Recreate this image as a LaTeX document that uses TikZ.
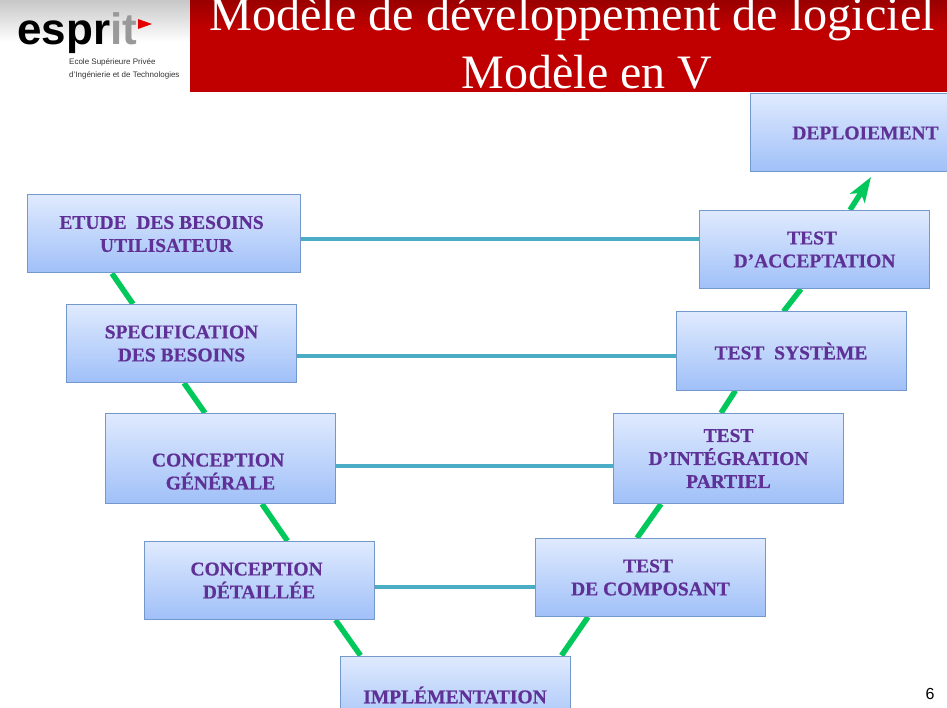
\documentclass[tikz,border=0pt]{standalone}
\usepackage{fontspec}
\setmainfont[BoldFeatures={FakeBold=0.6}]{Liberation Serif}
\setsansfont{Liberation Sans}
\usetikzlibrary{arrows.meta,backgrounds}
\definecolor{boxtop}{HTML}{DFEAFE}
\definecolor{boxbot}{HTML}{A0C0F8}
\definecolor{boxline}{HTML}{7399CC}
\definecolor{boxtext}{HTML}{5F3196}
\definecolor{vgreen}{HTML}{00C85A}
\definecolor{hblue}{HTML}{4BACC6}
\definecolor{hdred}{HTML}{C00000}
\newcommand{\padsp}{\mbox{\ }}
\begin{document}
\begin{tikzpicture}[x=1pt,y=-1pt,
    stagebox/.style={draw=boxline,line width=1pt,top color=boxtop,bottom color=boxbot,
      minimum width=230pt,minimum height=78pt,inner sep=0pt,align=center,
      text=boxtext,font=\bfseries\fontsize{19.5}{23}\selectfont},
    vline/.style={draw=vgreen,line width=5.5pt},
    hline/.style={draw=hblue,line width=4pt}]
    \path[use as bounding box,clip] (0,0) rectangle (947,708);
    \node[stagebox,minimum width=273pt] (etude) at (164,234) { ETUDE\ \ DES BESOINS\padsp\\\padsp UTILISATEUR };
    \node[stagebox] (spec) at (181.5,343.5) { SPECIFICATION\\DES BESOINS };
    \node[stagebox,minimum height=90pt] (congen) at (220.5,458.5) { \strut\\CONCEPTION\padsp\\GÉNÉRALE };
    \node[stagebox] (condet) at (259,580.5) { CONCEPTION\padsp\\DÉTAILLÉE };
    \node[stagebox] (impl) at (455,695) { \padsp IMPLÉMENTATION };
    \node[stagebox] (tcomp) at (650.5,577.5) { TEST\padsp\\DE COMPOSANT };
    \node[stagebox,minimum height=90pt] (tint) at (728.5,458.5) { TEST\\D’INTÉGRATION\\PARTIEL };
    \node[stagebox] (tsys) at (791,351) { \padsp TEST\ \ SYSTÈME };
    \node[stagebox] (tacc) at (814.5,249.5) { TEST\padsp\\D’ACCEPTATION };
    \node[stagebox] (depl) at (865.5,133) { \padsp DEPLOIEMENT };
    \coordinate (depltip) at (871,177);
    \begin{pgfonlayer}{background}
      \draw[hline] (etude.east |- 0,239) -- (tacc.west |- 0,239);
      \draw[hline] (spec.east |- 0,356) -- (tsys.west |- 0,356);
      \draw[hline] (congen.east |- 0,466) -- (tint.west |- 0,466);
      \draw[hline] (condet.east |- 0,587) -- (tcomp.west |- 0,587);
      \draw[vline] ([xshift=85pt]etude.south west) -- ([xshift=67pt]spec.north west);
      \draw[vline] ([xshift=118pt]spec.south west) -- ([xshift=100pt]congen.north west);
      \draw[vline] ([xshift=157pt]congen.south west) -- ([xshift=144pt]condet.north west);
      \draw[vline] ([xshift=192pt]condet.south west) -- ([xshift=21pt]impl.north west);
      \draw[vline] ([xshift=222pt]impl.north west) -- ([xshift=53pt]tcomp.south west);
      \draw[vline] ([xshift=102pt]tcomp.north west) -- ([xshift=48pt]tint.south west);
      \draw[vline] ([xshift=108pt]tint.north west) -- ([xshift=60pt]tsys.south west);
      \draw[vline] ([xshift=108pt]tsys.north west) -- ([xshift=102pt]tacc.south west);
      \draw[vline,-{Stealth[length=25pt,width=17pt,inset=6pt]}] ([xshift=151pt]tacc.north west) -- (depltip);
    \end{pgfonlayer}
    % bandeau du haut
    \shade[top color=black!22,bottom color=white] (0,0) rectangle (190,42);
    \fill[hdred] (190,0) rectangle (947,92);
    \shade[top color=hdred!80!black,bottom color=hdred] (190,0) rectangle (947,28);
    \node[anchor=base,text=white,font=\fontsize{48.2}{48}\selectfont] (titre) at (572,31) { Modèle de développement de logiciel };
    \node[anchor=base,text=white,font=\fontsize{48}{48}\selectfont] (soustitre) at (587,89) { Modèle en V };
    % logo
    \node[anchor=base west,inner sep=0pt,font=\sffamily\bfseries\fontsize{44}{44}\selectfont] (logo) at (17,45) { espr\textcolor{black!40}{it} };
    \fill[red!90!black] (138,19) -- (152,24) -- (138,29) -- cycle;
    \node[anchor=base west,inner sep=0pt,text=black!80,font=\sffamily\fontsize{8}{8}\selectfont] (ecole) at (69,65) { Ecole Supérieure Privée };
    \node[anchor=base west,inner sep=0pt,text=black!80,font=\sffamily\fontsize{8}{8}\selectfont] (ingen) at (69,78) { d’Ingénierie et de Technologies };
    \node[anchor=base,inner sep=0pt,font=\sffamily\fontsize{16}{16}\selectfont] (page) at (930,699) { 6 };
  \end{tikzpicture}
\end{document}
